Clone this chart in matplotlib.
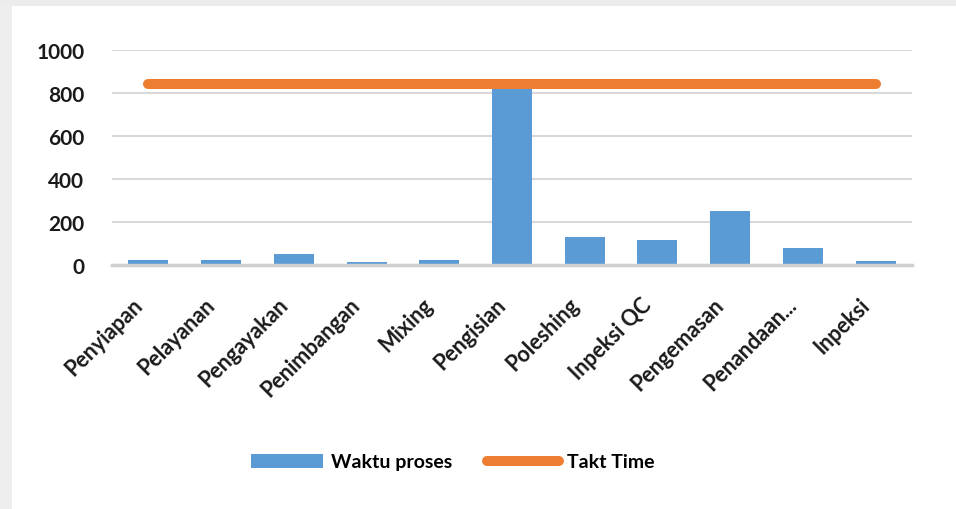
import matplotlib
matplotlib.use("Agg")
import matplotlib.pyplot as plt
from matplotlib.patches import Patch, Rectangle
from matplotlib.lines import Line2D
from matplotlib.transforms import ScaledTranslation

categories = ["Penyiapan", "Pelayanan", "Pengayakan", "Penimbangan", "Mixing",
              "Pengisian", "Poleshing", "Inpeksi QC", "Pengemasan", "Penandaan...", "Inpeksi"]
waktu_proses = [25, 25, 52, 15, 25, 830, 130, 117, 252, 78, 20]
takt_time = [840, 840, 840, 840, 840, 840, 840, 840, 840, 840, 840]
y_ticks = [0, 200, 400, 600, 800, 1000]

BLUE = "#5B9BD5"
ORANGE = "#ED7D31"
FONT = "Lato"

fig = plt.figure(figsize=(9.56, 5.10), dpi=100, facecolor="white")
fig.patches.append(Rectangle((0, 0), 12/956, 1, transform=fig.transFigure,
                             facecolor="#eeeeee", edgecolor="none", zorder=0))
fig.patches.append(Rectangle((0, 1-7/510), 1, 7/510, transform=fig.transFigure,
                             facecolor="#ececec", edgecolor="none", zorder=0))

ax = fig.add_axes([112/956, 1-266/510, 800/956, 215.5/510])
x = list(range(len(categories)))
ax.bar(x, waktu_proses, width=0.55, color=BLUE, zorder=2)
ax.plot(x, takt_time, color=ORANGE, lw=7.2, solid_capstyle="round", zorder=3)

ax.set_xlim(-0.5, len(categories) - 0.5)
ax.set_ylim(0, 1000)
ax.set_yticks(y_ticks)
ax.set_yticklabels([str(v) for v in y_ticks], fontfamily=FONT, fontweight="bold",
                   fontsize=15, color="#1a1a1a")
ax.set_xticks(x)
ax.set_xticklabels(categories, rotation=45, ha="right", rotation_mode="anchor",
                   fontfamily=FONT, fontweight="bold", fontsize=15.5, color="#1a1a1a")
ax.tick_params(axis="y", length=0, pad=20)
ax.tick_params(axis="x", length=0, pad=14)
offset = ScaledTranslation(-17/100, -9/100, fig.dpi_scale_trans)
for lab in ax.get_xticklabels():
    lab.set_transform(lab.get_transform() + offset)

ax.grid(axis="y", color="#d9d9d9", lw=1.5, zorder=0)
for s in ["top", "right", "left"]:
    ax.spines[s].set_visible(False)
ax.spines["bottom"].set_color("#d0d0d0")
ax.spines["bottom"].set_linewidth(2.5)
ax.spines["bottom"].set_zorder(4)

handles = [Patch(facecolor=BLUE, edgecolor="none"),
           Line2D([0], [0], color=ORANGE, lw=7.2, solid_capstyle="round")]
fig.legend(handles, ["Waktu proses", "Takt Time"], loc="center",
           bbox_to_anchor=(453/956, 1-463/510), ncol=2, frameon=False,
           prop={"family": FONT, "weight": "bold", "size": 14},
           handlelength=3.7, handletextpad=0.4, columnspacing=1.8)

fig.savefig("out.png", dpi=100, facecolor=fig.get_facecolor())
